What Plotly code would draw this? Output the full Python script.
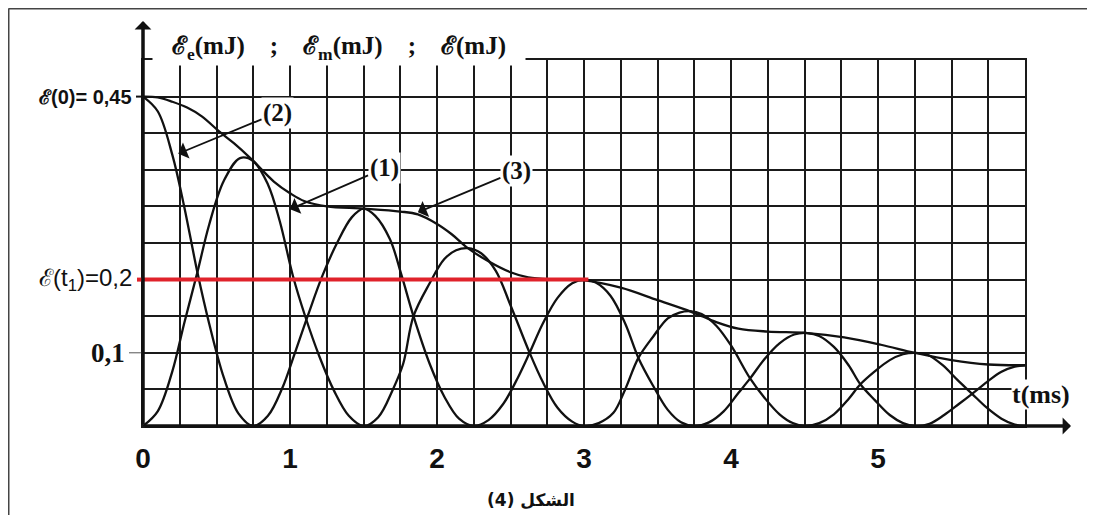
import plotly.graph_objects as go

# energie electrique Ee (courbe 2)
t_ee = [0, 0.1, 0.2, 0.28, 0.37, 0.45, 0.55, 0.65, 0.75,
        0.85, 0.95, 1.03, 1.12, 1.22, 1.32, 1.42, 1.5, 1.58, 1.68, 1.76, 1.84, 1.95, 2.05, 2.15, 2.25,
        2.35, 2.45, 2.55, 2.63, 2.72, 2.82, 2.92, 3.0, 3.08, 3.18, 3.28, 3.37, 3.47, 3.57, 3.66, 3.75,
        3.85, 3.95, 4.05, 4.13, 4.23, 4.33, 4.43, 4.52, 4.6, 4.7, 4.8, 4.88, 4.98, 5.08, 5.17, 5.25,
        5.35, 5.45, 5.55, 5.64, 5.74, 5.84, 5.93, 6.0]
ee = [0.45, 0.43, 0.37, 0.30, 0.21, 0.14, 0.066, 0.017, 0,
      0.014, 0.053, 0.098, 0.15, 0.205, 0.25, 0.285, 0.297, 0.287, 0.255, 0.205, 0.15, 0.085, 0.04, 0.01, 0,
      0.008, 0.03, 0.066, 0.1, 0.14, 0.175, 0.195, 0.2, 0.196, 0.178, 0.14, 0.093, 0.055, 0.022, 0.005, 0,
      0.005, 0.02, 0.045, 0.065, 0.092, 0.113, 0.125, 0.127, 0.123, 0.108, 0.083, 0.057, 0.035, 0.015, 0.004, 0,
      0.003, 0.015, 0.03, 0.044, 0.06, 0.074, 0.081, 0.083]

# energie magnetique Em (courbe 1)
t_em = [0, 0.1, 0.2, 0.28, 0.37, 0.45, 0.55, 0.66, 0.75, 0.85, 0.93, 1.02, 1.1, 1.2, 1.3, 1.4, 1.5,
        1.6, 1.7, 1.77, 1.84, 1.95, 2.05, 2.13, 2.21, 2.3, 2.4, 2.5, 2.63, 2.72, 2.82, 2.92, 3.0,
        3.1, 3.2, 3.28, 3.37, 3.47, 3.57, 3.65, 3.72, 3.8, 3.9, 4.0, 4.13, 4.23, 4.33, 4.42, 4.5,
        4.6, 4.7, 4.8, 4.88, 4.98, 5.08, 5.17, 5.25, 5.34, 5.44, 5.54, 5.64, 5.74, 5.84, 5.93, 6.0]
em = [0, 0.02, 0.075, 0.14, 0.21, 0.275, 0.335, 0.366, 0.362, 0.33, 0.28, 0.205, 0.152, 0.095, 0.048, 0.014, 0,
      0.012, 0.05, 0.085, 0.15, 0.195, 0.228, 0.24, 0.243, 0.236, 0.212, 0.165, 0.1, 0.06, 0.025, 0.006, 0,
      0.004, 0.018, 0.05, 0.093, 0.122, 0.147, 0.155, 0.157, 0.153, 0.137, 0.11, 0.065, 0.038, 0.016, 0.004, 0,
      0.004, 0.016, 0.037, 0.057, 0.075, 0.09, 0.098, 0.1, 0.097, 0.083, 0.063, 0.044, 0.025, 0.01, 0.002, 0]

# energie totale E (courbe 3)
t_e = [0, 0.1, 0.2, 0.3, 0.4, 0.52, 0.62, 0.73, 0.89, 1.0, 1.1, 1.25, 1.5, 1.75, 1.87, 2.0, 2.1, 2.21,
       2.35, 2.5, 2.62, 2.8, 3.0, 3.25, 3.5, 3.73, 3.9, 4.05, 4.25, 4.52, 4.77, 5.02, 5.25, 5.5, 5.75, 6.0]
e_tot = [0.45, 0.449, 0.443, 0.435, 0.423, 0.402, 0.386, 0.366, 0.334, 0.318, 0.307, 0.300, 0.297, 0.293,
         0.289, 0.276, 0.262, 0.243, 0.225, 0.210, 0.203, 0.200, 0.199, 0.189, 0.172, 0.156, 0.142, 0.133,
         0.129, 0.127, 0.121, 0.111, 0.100, 0.090, 0.084, 0.083]

# E(t1) = 0,2
t1_line = [0, 3.03]
e_t1 = [0.2, 0.2]

x_ticks = [0, 1, 2, 3, 4, 5]

# la page ajoute une marge de 8 px autour de la figure
OFF = 8
W, H = 1095 - OFF, 515 - OFF
L, T = 143 - OFF, 60 - OFF
pw, ph = 882, 366
R, B = W - L - pw, H - T - ph


def px(x):
    # pixel de la page -> coordonnee paper
    return (x - OFF - L) / pw


def py(y):
    return (T + ph - (y - OFF)) / ph


fig = go.Figure()

for tx, vy in [(t_ee, ee), (t_em, em), (t_e, e_tot)]:
    fig.add_trace(go.Scatter(x=tx, y=vy, mode="lines", line_shape="spline",
                             line=dict(color="#111111", width=2.3), showlegend=False, hoverinfo="skip"))

fig.add_trace(go.Scatter(x=t1_line, y=e_t1, mode="lines",
                         line=dict(color="#e0222b", width=4), showlegend=False, hoverinfo="skip"))

serif = "Liberation Serif"
sans = "Liberation Sans"
ink = "#111111"
ann = []

# fleches des axes
ann.append(dict(x=px(1071), y=py(426), xref="paper", yref="paper", ax=-(1071 - 143), ay=0,
                axref="pixel", ayref="pixel", text="", showarrow=True,
                arrowhead=1, arrowsize=0.8, arrowwidth=3.5, arrowcolor=ink))
ann.append(dict(x=px(143), y=py(21), xref="paper", yref="paper", ax=0, ay=426 - 21,
                axref="pixel", ayref="pixel", text="", showarrow=True,
                arrowhead=1, arrowsize=0.8, arrowwidth=3.5, arrowcolor=ink))

# etiquettes des courbes
for lab, tip, pos in [("(2)", (0.24, 0.372), (0.915, 0.428)),
                      ("(1)", (1.0, 0.296), (1.64, 0.352)),
                      ("(3)", (1.87, 0.292), (2.54, 0.348))]:
    ann.append(dict(x=tip[0], y=tip[1], ax=pos[0], ay=pos[1], xref="x", yref="y", axref="x", ayref="y",
                    text="<b>%s</b>" % lab, font=dict(family=serif, size=25, color=ink),
                    bgcolor="white", borderpad=1,
                    showarrow=True, arrowhead=1, arrowsize=1.6, arrowwidth=1.8, arrowcolor=ink))

nb = "\u00a0"
titre = ("<b>ℰ<sub>e</sub>(mJ)" + nb * 4 + ";" + nb * 4 + "ℰ<sub>m</sub>(mJ)" + nb * 4 + ";"
         + nb * 4 + "ℰ(mJ)</b>")
ann.append(dict(x=px(339), y=py(48), xref="paper", yref="paper", xanchor="center", yanchor="middle",
                showarrow=False, text=titre, font=dict(family=serif, size=25, color=ink),
                bgcolor="white", width=372, height=34, borderpad=0))
ann.append(dict(x=px(1041), y=py(394), xref="paper", yref="paper", xanchor="center", yanchor="middle",
                showarrow=False, text="<b>t(ms)</b>", font=dict(family=serif, size=26, color=ink),
                bgcolor="white", borderpad=0))

# graduations de l'axe vertical
ann.append(dict(x=px(134), y=0.45, xref="paper", yref="y", xanchor="right", yanchor="middle",
                showarrow=False, text="<b>ℰ(0)= 0,45</b>", font=dict(family=sans, size=20, color=ink)))
ann.append(dict(x=px(134), y=0.2, xref="paper", yref="y", xanchor="right", yanchor="middle",
                showarrow=False, text="ℰ(t<sub>1</sub>)=0,2", font=dict(family=sans, size=24, color=ink)))
ann.append(dict(x=px(127), y=0.1, xref="paper", yref="y", xanchor="right", yanchor="middle",
                showarrow=False, text="<b>0,1</b>", font=dict(family=serif, size=27, color=ink)))

ann.append(dict(x=px(531), y=py(500), xref="paper", yref="paper", xanchor="center", yanchor="middle",
                showarrow=False, text="<b>الشكل (4)</b>", font=dict(family="DejaVu Sans", size=17, color=ink)))

fig.update_layout(
    width=W, height=H,
    margin=dict(l=L, r=R, t=T, b=B),
    paper_bgcolor="white", plot_bgcolor="white",
    annotations=ann,
    shapes=[
        # cadre
        dict(type="line", xref="paper", yref="paper", x0=px(OFF + 0.5), x1=px(OFF + 0.5),
             y0=py(OFF + 0.5), y1=py(515), line=dict(color="#444", width=2)),
        dict(type="line", xref="paper", yref="paper", x0=px(OFF + 0.5), x1=px(1095), y0=py(OFF + 0.5),
             y1=py(OFF + 0.5), line=dict(color="#444", width=2)),
        # petits traits de graduation
        dict(type="line", xref="paper", yref="y", x0=px(136), x1=px(143), y0=0.45, y1=0.45,
             line=dict(color=ink, width=2)),
        dict(type="line", xref="paper", yref="y", x0=px(129), x1=px(143), y0=0.1, y1=0.1,
             line=dict(color="#555", width=1)),
        dict(type="line", xref="paper", yref="y", x0=px(137), x1=px(143), y0=0.2, y1=0.2,
             line=dict(color="#e0222b", width=4)),
    ],
    xaxis=dict(range=[0, 6], tickvals=x_ticks, ticktext=["<b>%d</b>" % v for v in x_ticks],
               tickfont=dict(family=sans, size=28, color=ink), ticks="", ticklabelstandoff=6,
               showgrid=True, gridcolor="#1a1a1a", gridwidth=2,
               minor=dict(dtick=0.25, showgrid=True, gridcolor="#1a1a1a", gridwidth=2),
               zeroline=False, showline=True, mirror=True, linecolor="#1a1a1a", linewidth=2,
               fixedrange=True),
    yaxis=dict(range=[0, 0.5], dtick=0.05, tick0=0, showticklabels=False, ticks="",
               showgrid=True, gridcolor="#1a1a1a", gridwidth=2,
               zeroline=False, showline=True, mirror=True, linecolor="#1a1a1a", linewidth=2,
               fixedrange=True),
)

fig.write_html("out.html")
